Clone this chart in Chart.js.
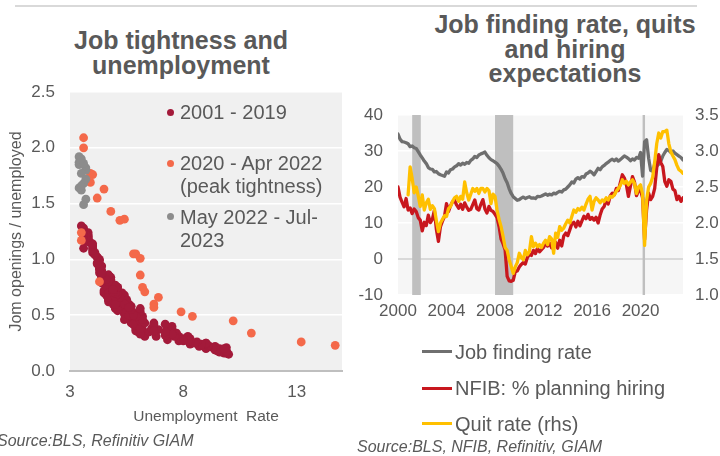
<!DOCTYPE html>
<html>
<head>
<meta charset="utf-8">
<script src="https://cdn.jsdelivr.net/npm/chart.js@4.4.1/dist/chart.umd.min.js"></script>
<style>
  html, body { margin: 0; padding: 0; background: #fff; }
  body { width: 720px; height: 456px; position: relative; overflow: hidden;
         font-family: "Liberation Sans", Arial, sans-serif; color: #595959; }
  canvas { position: absolute; top: 0; }
  .title { position: absolute; font-weight: bold; font-size: 25px; line-height: 24.5px;
           text-align: center; white-space: nowrap; }
  .lg { position: absolute; font-size: 20px; line-height: 23px; white-space: nowrap; }
  .dot { position: absolute; width: 7px; height: 7px; border-radius: 50%; }
  .ln { position: absolute; width: 30px; height: 3px; }
  .src { position: absolute; font-size: 16px; font-style: italic; line-height: 20px; white-space: nowrap; }
  .rule { position: absolute; left: 15px; top: 5px; width: 682px; height: 2px; background: #d9d9d9; }
</style>
</head>
<body>
<div class="rule"></div>

<div class="title" style="left:61px; top:28px; width:240px;">Job tightness and<br>unemployment</div>
<div class="title" style="left:415px; top:12px; width:300px;">Job finding rate, quits<br>and hiring<br>expectations</div>

<canvas id="tightness" width="360" height="456" style="left:0"></canvas>
<canvas id="flows" width="365" height="456" style="left:355px"></canvas>

<!-- legend of the scatter panel -->
<div class="dot" style="left:166.5px; top:108.5px; background:#a31a3a"></div>
<div class="lg" style="left:180px; top:100.8px">2001 - 2019</div>
<div class="dot" style="left:166.5px; top:159.8px; background:#f4694a"></div>
<div class="lg" style="left:180px; top:152px">2020 - Apr 2022<br>(peak tightness)</div>
<div class="dot" style="left:166.5px; top:213.2px; background:#8c8c8c"></div>
<div class="lg" style="left:180px; top:205.5px">May 2022 - Jul-<br>2023</div>

<!-- legend of the time-series panel -->
<div class="ln" style="left:422px; top:350px; background:#6f6f6f"></div>
<div class="lg" style="left:455px; top:340px; line-height:24px">Job finding rate</div>
<div class="ln" style="left:422px; top:386.5px; background:#c8171e"></div>
<div class="lg" style="left:455px; top:376.3px; line-height:24px">NFIB: % planning hiring</div>
<div class="ln" style="left:422px; top:421.8px; background:#ffc000"></div>
<div class="lg" style="left:455px; top:411.6px; line-height:24px">Quit rate (rhs)</div>

<div class="src" style="left:-3px; top:431px">Source:BLS, Refinitiv GIAM</div>
<div class="src" style="left:357px; top:437px">Source:BLS, NFIB, Refinitiv, GIAM</div>

<script>
// ---------- Scatter panel: unemployment rate vs job openings per unemployed ----------
const unempTicks = [3, 8, 13];

// Monthly, 2001 - 2019
const unemp0119 = [
  4.2,4.2,4.3,4.4,4.3,4.5,4.6,4.9,5.0,5.3,5.5,5.7,
  5.7,5.7,5.7,5.9,5.8,5.8,5.8,5.7,5.7,5.7,5.9,6.0,
  5.8,5.9,5.9,6.0,6.1,6.3,6.2,6.1,6.1,6.0,5.8,5.7,
  5.7,5.6,5.8,5.6,5.6,5.6,5.5,5.4,5.4,5.5,5.4,5.4,
  5.3,5.4,5.2,5.2,5.1,5.0,5.0,4.9,5.0,5.0,5.0,4.9,
  4.7,4.8,4.7,4.7,4.6,4.6,4.7,4.7,4.5,4.4,4.5,4.4,
  4.6,4.5,4.4,4.5,4.4,4.6,4.7,4.6,4.7,4.7,4.7,5.0,
  5.0,4.9,5.1,5.0,5.4,5.6,5.8,6.1,6.1,6.5,6.8,7.3,
  7.8,8.3,8.7,9.0,9.4,9.5,9.5,9.6,9.8,10.0,9.9,9.9,
  9.8,9.8,9.9,9.9,9.6,9.4,9.4,9.5,9.5,9.4,9.8,9.3,
  9.1,9.0,9.0,9.1,9.0,9.1,9.0,9.0,9.0,8.8,8.6,8.5,
  8.3,8.3,8.2,8.2,8.2,8.2,8.2,8.0,7.8,7.8,7.7,7.9,
  8.0,7.7,7.5,7.6,7.5,7.5,7.3,7.2,7.2,7.2,6.9,6.7,
  6.6,6.7,6.7,6.2,6.3,6.1,6.2,6.1,5.9,5.7,5.8,5.6,
  5.7,5.5,5.4,5.4,5.6,5.3,5.2,5.1,5.0,5.0,5.1,5.0,
  4.8,4.9,5.0,5.1,4.8,4.9,4.8,4.9,5.0,4.9,4.7,4.7,
  4.7,4.6,4.4,4.4,4.4,4.3,4.3,4.4,4.3,4.2,4.2,4.1,
  4.0,4.1,4.0,4.0,3.8,4.0,3.8,3.8,3.7,3.8,3.8,3.9,
  4.0,3.8,3.8,3.7,3.6,3.6,3.7,3.6,3.5,3.6,3.6,3.6
];
const ratio0119 = [
  1.02,0.97,0.92,0.85,0.88,0.80,0.76,0.68,0.63,0.56,0.51,0.47,
  0.50,0.44,0.48,0.40,0.47,0.52,0.42,0.54,0.46,0.43,0.38,0.41,
  0.44,0.36,0.41,0.35,0.39,0.31,0.37,0.33,0.42,0.40,0.47,0.50,
  0.52,0.55,0.44,0.58,0.49,0.53,0.60,0.51,0.57,0.48,0.62,0.55,
  0.60,0.52,0.66,0.58,0.62,0.70,0.60,0.73,0.64,0.68,0.57,0.70,
  0.76,0.68,0.80,0.66,0.82,0.72,0.64,0.77,0.85,0.79,0.70,0.84,
  0.70,0.80,0.86,0.72,0.82,0.68,0.64,0.76,0.62,0.70,0.66,0.56,
  0.66,0.60,0.54,0.60,0.46,0.50,0.42,0.38,0.45,0.35,0.31,0.28,
  0.27,0.24,0.22,0.20,0.19,0.18,0.19,0.17,0.16,0.15,0.16,0.17,
  0.18,0.19,0.18,0.21,0.20,0.19,0.21,0.20,0.19,0.22,0.20,0.21,
  0.22,0.23,0.24,0.22,0.21,0.23,0.25,0.24,0.25,0.24,0.26,0.25,
  0.29,0.27,0.30,0.28,0.31,0.30,0.27,0.29,0.31,0.30,0.32,0.28,
  0.27,0.34,0.38,0.31,0.40,0.33,0.39,0.32,0.42,0.35,0.37,0.43,
  0.38,0.42,0.36,0.49,0.43,0.53,0.46,0.56,0.49,0.58,0.50,0.60,
  0.55,0.64,0.60,0.68,0.57,0.70,0.66,0.75,0.67,0.77,0.69,0.72,
  0.81,0.73,0.70,0.75,0.84,0.74,0.82,0.71,0.76,0.73,0.86,0.80,
  0.86,0.82,0.94,0.86,0.90,0.99,0.91,0.87,1.00,0.96,1.02,1.06,
  1.06,1.04,1.10,1.08,1.16,1.12,1.18,1.21,1.24,1.19,1.22,1.15,
  1.14,1.20,1.24,1.22,1.26,1.24,1.19,1.28,1.30,1.21,1.17,1.10
];

// Monthly, Jan 2020 - Apr 2022
const unempCovid = [3.5,3.5,4.3,14.7,13.2,11.0,10.2,8.4,7.9,6.9,6.7,6.7,
                    6.3,6.2,6.1,6.1,5.9,5.8,5.4,5.2,4.8,4.5,4.2,3.9,
                    4.0,3.9,3.6,3.6];
const ratioCovid = [1.24,1.17,0.80,0.23,0.26,0.34,0.45,0.49,0.53,0.66,0.60,0.57,
                    0.71,0.75,0.86,1.01,1.05,1.05,1.36,1.35,1.43,1.63,1.55,1.77,
                    1.76,1.69,2.09,2.00];

// Monthly, May 2022 - Jul 2023
const unempRecent = [3.4,3.4,3.4,3.7,3.7,3.5,3.7,3.6,3.4,3.5,3.5,3.7,3.6,3.6,3.5];
const ratioRecent = [1.92,1.87,1.85,1.82,1.80,1.77,1.72,1.68,1.64,1.62,1.66,1.54,1.49,1.86,1.90];

// ---------- Time-series panel (observations every second month, Jan 2000 - Jul 2023) ----------
const yearTicks = [2000, 2004, 2008, 2012, 2016, 2020];
const firstYear = 2000;
const obsPerYear = 6;

const jobFindingRate = [
  34.7,33.3,32.6,32.5,32.3,32.0,
  31.2,31.4,30.9,30.7,29.8,28.9,
  28.1,27.2,26.5,25.4,25.0,24.9,
  24.2,24.3,23.7,23.4,23.2,23.0,
  24.2,23.9,24.8,25.0,25.6,25.9,
  26.5,26.1,26.6,26.3,26.8,26.6,
  27.4,27.8,28.5,28.2,28.9,29.2,
  29.4,29.7,28.8,28.1,27.6,27.3,
  26.9,26.5,25.8,24.9,23.8,22.3,
  21.2,19.5,18.2,17.3,16.8,16.3,
  16.5,16.9,17.2,16.8,17.1,17.3,
  16.9,17.0,16.8,17.4,17.3,17.5,
  17.8,18.1,17.7,18.0,17.8,18.3,
  18.1,18.5,18.8,18.6,19.2,19.4,
  20.0,20.6,21.4,21.1,22.2,22.6,
  22.2,22.9,22.7,23.6,23.9,24.4,
  24.0,23.4,24.3,25.2,24.8,25.6,
  26.0,26.5,26.9,27.4,27.7,27.3,
  27.8,27.2,27.6,28.1,28.6,28.3,
  27.9,27.3,27.8,27.5,28.2,28.0,
  29.6,23.0,32.6,33.1,28.0,24.6,
  24.4,26.4,25.8,26.3,27.2,28.6,
  29.6,30.4,30.1,29.6,30.0,29.4,
  29.0,28.6,28.2,27.5
];
const nfibHiring = [
  20.0,17.2,15.8,14.5,16.8,13.6,
  14.2,12.6,13.9,13.2,11.5,10.8,
  7.8,10.2,9.3,12.2,10.1,11.0,
  13.5,8.2,4.9,9.0,10.5,11.8,
  15.4,13.2,14.8,15.9,16.3,15.0,
  14.1,15.2,13.8,15.6,14.4,13.5,
  13.8,15.1,16.4,14.0,13.6,15.2,
  16.5,13.9,12.8,14.6,13.5,13.2,
  12.4,11.5,9.0,5.5,4.2,2.5,
  -4.8,-6.1,-6.2,-5.9,-3.6,-3.3,
  -2.2,-1.5,-1.0,-1.4,0.4,1.3,
  1.0,2.4,1.5,3.0,2.0,2.6,
  3.2,4.5,3.6,4.4,3.1,3.8,
  4.6,3.0,5.2,3.6,6.4,7.2,
  6.5,8.1,9.8,10.2,8.9,10.5,
  9.2,10.6,11.9,11.2,12.4,11.0,
  11.5,10.8,11.6,10.0,12.2,13.9,
  14.6,16.4,15.3,17.5,18.3,17.8,
  19.6,19.0,21.2,23.4,22.5,20.6,
  17.4,20.2,22.9,21.4,17.6,19.0,
  19.2,17.0,5.4,13.7,18.3,16.5,
  17.4,19.6,25.3,29.0,26.8,25.7,
  21.5,20.2,22.0,21.6,19.4,19.0,
  16.5,17.4,16.0,17.0
];
const quitRate = [
  null,null,null,null,null,2.39,
  2.78,2.62,2.42,2.50,2.38,2.23,
  2.39,2.18,2.28,2.33,2.19,2.24,
  2.20,2.03,1.88,2.00,2.05,2.10,
  2.09,2.20,2.23,2.30,2.35,2.37,
  2.30,2.37,2.33,2.57,2.42,2.32,
  2.40,2.48,2.44,2.48,2.41,2.48,
  2.48,2.43,2.48,2.45,2.27,2.40,
  2.37,2.18,2.05,1.95,1.81,1.66,
  1.62,1.49,1.40,1.30,1.39,1.45,
  1.58,1.52,1.49,1.62,1.56,1.60,
  1.81,1.67,1.72,1.67,1.70,1.66,
  1.72,1.76,1.70,1.81,1.78,1.58,
  1.86,1.80,1.95,1.90,1.93,1.99,
  2.04,2.00,2.09,2.18,2.15,2.20,
  2.18,2.22,2.18,2.26,2.33,2.37,
  2.18,2.30,2.35,2.32,2.28,2.32,
  2.30,2.35,2.32,2.37,2.36,2.39,
  2.44,2.48,2.52,2.60,2.55,2.58,
  2.53,2.57,2.60,2.55,2.41,2.50,
  2.53,2.40,1.69,2.32,2.50,2.55,
  2.64,2.85,3.10,3.25,3.18,3.27,
  3.27,3.29,3.10,2.99,2.93,2.88,
  2.80,2.74,2.72,2.69
];

// US recessions (start, end as decimal years)
const recessions = [[2001.17, 2001.88], [2008.0, 2009.5], [2020.17, 2020.37]];

// ---------- helpers ----------
const TEXT = '#595959';
Chart.defaults.font.family = '"Liberation Sans", Arial, sans-serif';
Chart.defaults.color = TEXT;

const pairUp = (xs, ys) => xs.map((x, i) => ({ x, y: ys[i] }));
const onTimeline = vals => vals.map((v, i) => ({ x: firstYear + i / obsPerYear, y: v }));

const plotBg = {
  id: 'plotBg',
  beforeDraw(chart, args, opts) {
    const { ctx, chartArea: a } = chart;
    ctx.save();
    ctx.fillStyle = opts.color;
    ctx.fillRect(a.left, a.top, a.right - a.left, a.bottom - a.top);
    ctx.restore();
  }
};

const recessionBands = {
  id: 'recessionBands',
  beforeDatasetsDraw(chart, args, opts) {
    const { ctx, chartArea: a, scales: { x } } = chart;
    ctx.save();
    ctx.fillStyle = opts.color;
    recessions.forEach(([s, e]) => {
      const l = x.getPixelForValue(s), r = x.getPixelForValue(e);
      ctx.fillRect(l, a.top, r - l, a.bottom - a.top);
    });
    ctx.restore();
  }
};

// ---------- left: scatter ----------
new Chart(document.getElementById('tightness'), {
  type: 'scatter',
  data: {
    datasets: [
      { label: '2001 - 2019', data: pairUp(unemp0119, ratio0119), backgroundColor: '#a31a3a', order: 3 },
      { label: '2020 - Apr 2022 (peak tightness)', data: pairUp(unempCovid, ratioCovid), backgroundColor: '#f4694a', order: 2 },
      { label: 'May 2022 - Jul-2023', data: pairUp(unempRecent, ratioRecent), backgroundColor: '#8c8c8c', order: 1 }
    ]
  },
  options: {
    responsive: false, animation: false, devicePixelRatio: 1,
    layout: { padding: { top: 92, right: 18, left: 0, bottom: 25 } },
    elements: { point: { radius: 4.4, hoverRadius: 4.4, borderWidth: 0 } },
    plugins: { legend: { display: false }, tooltip: { enabled: false }, plotBg: { color: '#f0f0f0' } },
    scales: {
      x: {
        type: 'linear', min: 3, max: 15,
        afterBuildTicks(s) { s.ticks = unempTicks.map(v => ({ value: v })); },
        afterFit(s) { s.height = 60; },
        grid: { display: false, drawTicks: false },
        border: { display: true, color: '#bfbfbf', width: 2 },
        ticks: { color: TEXT, font: { size: 17 }, padding: 11, maxRotation: 0, callback: v => String(v) },
        title: { display: true, text: 'Unemployment  Rate', color: TEXT, font: { size: 15.5 }, padding: { top: 0, bottom: 5 } }
      },
      y: {
        min: 0, max: 2.5,
        afterFit(s) { s.width = 70; },
        grid: { color: c => c.tick.value === 0 ? 'rgba(0,0,0,0)' : '#ffffff', lineWidth: 1.5, drawTicks: false },
        border: { display: false },
        ticks: { stepSize: 0.5, color: TEXT, font: { size: 17 }, padding: 15, callback: v => v.toFixed(1) },
        title: { display: true, text: 'Jom openings / unemployed', color: TEXT, font: { size: 16 }, padding: { top: 7, bottom: 0 } }
      }
    }
  },
  plugins: [plotBg]
});

// ---------- right: time series ----------
new Chart(document.getElementById('flows'), {
  type: 'line',
  data: {
    datasets: [
      { label: 'Quit rate (rhs)', data: onTimeline(quitRate), yAxisID: 'y1', borderColor: '#ffc000', order: 1 },
      { label: 'NFIB: % planning hiring', data: onTimeline(nfibHiring), yAxisID: 'y', borderColor: '#c8171e', order: 2 },
      { label: 'Job finding rate', data: onTimeline(jobFindingRate), yAxisID: 'y', borderColor: '#6f6f6f', order: 3 }
    ]
  },
  options: {
    responsive: false, animation: false, devicePixelRatio: 1,
    layout: { padding: { top: 115, right: 0, left: 0, bottom: 126 } },
    elements: {
      line: { borderWidth: 3.3, tension: 0, borderJoinStyle: 'round', borderCapStyle: 'round' },
      point: { radius: 0, hoverRadius: 0 }
    },
    plugins: {
      legend: { display: false }, tooltip: { enabled: false },
      plotBg: { color: '#f6f6f6' }, recessionBands: { color: '#bfbfbf' }
    },
    scales: {
      x: {
        type: 'linear', min: 2000, max: 2023.5,
        afterBuildTicks(s) { s.ticks = yearTicks.map(v => ({ value: v })); },
        afterFit(s) { s.height = 35; },
        grid: { display: false, drawTicks: false },
        border: { display: false },
        ticks: { color: TEXT, font: { size: 17 }, padding: 6.5, maxRotation: 0, callback: v => String(v) }
      },
      y: {
        position: 'left', min: -10, max: 40,
        afterFit(s) { s.width = 43; },
        grid: {
          color: c => c.tick.value === 0 ? '#d9d9d9' : '#ffffff',
          lineWidth: c => c.tick.value === 0 ? 2 : 1.5,
          drawTicks: false
        },
        border: { display: false },
        ticks: { stepSize: 10, color: TEXT, font: { size: 17 }, padding: 15 }
      },
      y1: {
        position: 'right', min: 1, max: 3.5,
        afterFit(s) { s.width = 37; },
        grid: { display: false, drawTicks: false },
        border: { display: false },
        ticks: { stepSize: 0.5, color: TEXT, font: { size: 17 }, padding: 12, callback: v => v.toFixed(1) }
      }
    }
  },
  plugins: [plotBg, recessionBands]
});
</script>
</body>
</html>
